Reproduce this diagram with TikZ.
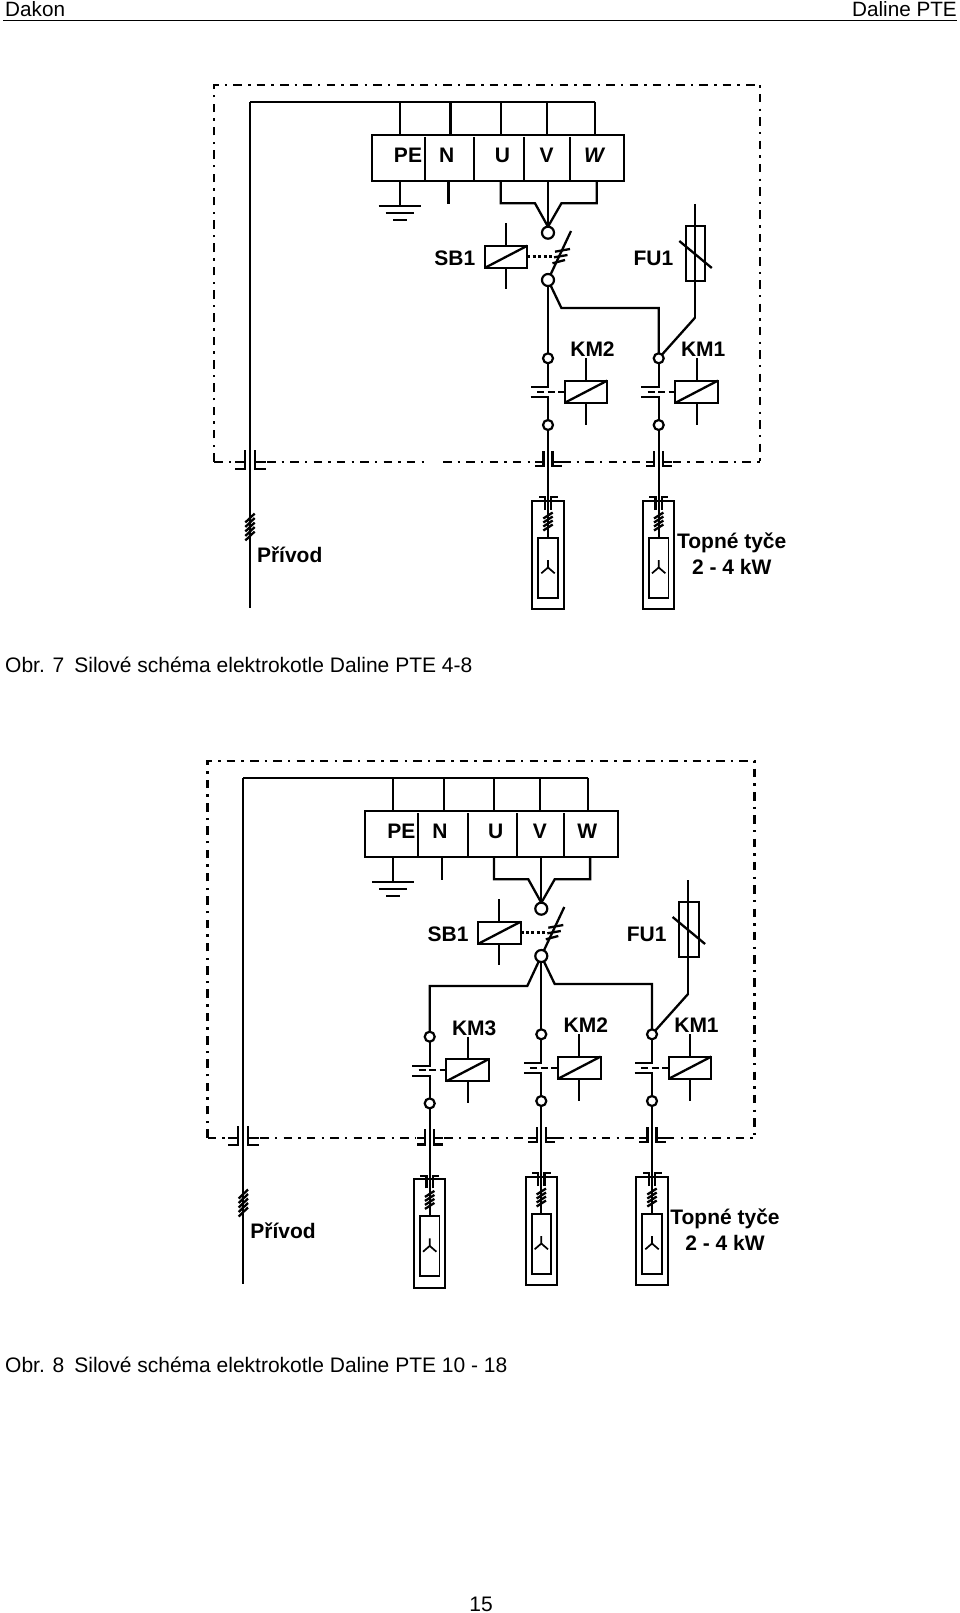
\documentclass[tikz,border=0pt]{standalone}
\usepackage{fontspec}
\setmainfont{Liberation Sans}
\tikzset{
  wire/.style={line width=2.3pt,line join=miter},
  thinw/.style={line width=1.7pt},
  frameline/.style={line width=2.3pt,dash pattern=on 8.5pt off 6.2pt on 2.4pt off 6.2pt},
  term/.style={circle,draw,line width=2.2pt,fill=white,inner sep=0pt,minimum size=10pt,outer sep=0pt},
  bigterm/.style={term,minimum size=12pt},
  boxn/.style={rectangle,draw,line width=2.1pt,inner sep=0pt,outer sep=0pt},
  lab/.style={inner sep=0pt,font=\bfseries\fontsize{21}{25}\selectfont},
  plain/.style={inner sep=0pt,font=\fontsize{21}{25}\selectfont},
  headt/.style={inner sep=0pt,font=\fontsize{20.7}{25}\selectfont}
}
% coil: prefix, centre x, centre y, stub top, stub bottom
\newcommand{\coil}[5]{%
  \node[boxn,minimum width=42.6pt,minimum height=22.2pt] (#1) at (#2,#3) {};
  \draw[wire] (#1.south west) -- (#1.north east);
  \coordinate (#1t) at (#2,#4);
  \coordinate (#1u) at (#2,#5);
  \draw[wire] (#1t) -- (#1.north);
  \draw[wire] (#1.south) -- (#1u);
}
% contactor column: prefix, x, dy, label
\newcommand{\branch}[4]{%
  \begin{scope}[shift={(#2,#3)}]
    \node[term] (#1a) at (0,358.3) {};
    \node[term] (#1b) at (0,425) {};
    \coordinate (#1c) at (0,387.3);
    \coordinate (#1d) at (0,397.3);
    \coordinate (#1e) at (-17.5,387.3);
    \coordinate (#1f) at (-17.5,397.3);
    \draw[wire] (#1a) -- (#1c) -- (#1e);
    \draw[wire] (#1f) -- (#1d) -- (#1b);
    \coil{#1coil}{38}{391.7}{358.3}{425}
    \coordinate (#1g) at (-11,391.7);
    \draw[line width=1.9pt,dash pattern=on 7pt off 3.5pt] (#1g) -- (#1coil.west);
    \node[lab] (#1lab) at (44.5,349.4) {#4};
    % coupler on the frame
    \draw[wire] (-4.5,451) -- (-4.5,466) -- (-13,466);
    \draw[wire] (-4.5,{461.7-#3}) -- (-13,{461.7-#3});
    \draw[wire] (4.5,451) -- (4.5,466) -- (13.5,466);
    \draw[wire] (4.5,{461.7-#3}) -- (13.5,{461.7-#3});
    % heater
    \node[boxn,minimum width=31.3pt,minimum height=108.6pt] (#1out) at (0,555) {};
    \node[boxn,line width=1.8pt,minimum width=19.4pt,minimum height=59.7pt] (#1in) at (0,567.8) {};
    \draw[wire] (#1b) -- (#1in.north);
    \draw[wire] (-3.3,510) -- (-3.3,497.3) -- (-9.5,497.3);
    \draw[wire] (3.3,510) -- (3.3,497.3) -- (9.5,497.3);
    \foreach \ty in {515.5,519.5,523.5,527.5}
      \draw[wire] (-4.7,\ty+3) -- (4.7,\ty-3);
    \coordinate (#1y) at (0,567.5);
    \draw[thinw] (0,560) -- (#1y) -- (-6.7,573.3);
    \draw[thinw] (#1y) -- (6.7,573.3);
  \end{scope}
}
% upper part of a diagram: prefix, W text
\newcommand{\toppart}[2]{%
  \node[boxn,minimum width=252.3pt,minimum height=46pt] (#1box) at (498.15,158) {};
  \coordinate (#1m) at (250,101.7);
  \coordinate (#1p) at (400,101.7);
  \coordinate (#1q) at (450.4,101.7);
  \coordinate (#1r) at (500.7,101.7);
  \coordinate (#1s) at (547,101.7);
  \coordinate (#1t) at (595,101.7);
  \draw[wire] (#1t) -- (#1m);
  \foreach \bx in {p,q,r,s,t}
    \draw[wire] (#1\bx) -- (#1\bx |- #1box.north);
  \foreach \dx in {425,474.3,524,570.4}
    \draw[line width=2pt] (\dx,137) -- (\dx,181);
  \node[lab] (#1pe) at (408,155.5) {PE};
  \node[lab] (#1n) at (446.6,155.5) {N};
  \node[lab] (#1u) at (502.5,155.5) {U};
  \node[lab] (#1v) at (546.6,155.5) {V};
  \node[lab] (#1w) at (594,155.5) {#2};
  % earth
  \coordinate (#1e) at (400,205.7);
  \draw[wire] (#1e |- #1box.south) -- (#1e);
  \draw[wire] (378.6,205.7) -- (420.7,205.7);
  \draw[wire] (385.7,212.7) -- (413.5,212.7);
  \draw[wire] (393,219.7) -- (407,219.7);
  \coordinate (#1ns) at (448.6,204);
  \draw[wire] (#1ns |- #1box.south) -- (#1ns);
  % phases to switch
  \node[bigterm] (#1sw) at (548,232.7) {};
  \node[bigterm] (#1so) at (548,280) {};
  \draw[wire] (500.7,181) -- (500.7,203.3) -- (535,203.3) -- (#1sw.north);
  \draw[wire] (548,181) -- (#1sw.north);
  \draw[wire] (596.8,181) -- (596.8,203.3) -- (561.4,203.3) -- (#1sw.north);
  % switch
  \coordinate (#1st) at (571,231);
  \draw[wire] (#1so) -- (#1st);
  \draw[wire] (555,251.7) -- (570,249);
  \draw[wire] (554,257.3) -- (567.5,255);
  \draw[wire] (552.5,263.3) -- (565,260);
  \coil{#1sb}{506}{256.85}{223.3}{289.3}
  \draw[line width=3pt,dash pattern=on 3pt off 2.4pt] (#1sb.east) -- (552,256.85);
  \node[lab] (#1sbl) at (454.8,258) {SB1};
  % fuse
  \node[boxn,minimum width=19.7pt,minimum height=55.3pt] (#1fu) at (695.5,253.6) {};
  \coordinate (#1fa) at (695,204);
  \coordinate (#1fb) at (695,317.7);
  \draw[wire] (#1fa) -- (#1fb);
  \draw[wire] (679.3,241) -- (711.8,268);
  \node[lab] (#1ful) at (653.4,258) {FU1};
}
% frame, main feed and labels: prefix
\newcommand{\mainfeed}[1]{%
  \coordinate (#1end) at (250,608);
  \draw[wire] (#1m) -- (#1end);
  \draw[wire] (245,450) -- (245,469.3) -- (235,469.3);
  \draw[wire] (245,461.7) -- (235,461.7);
  \draw[wire] (255,450) -- (255,469.3) -- (265.7,469.3);
  \draw[wire] (255,461.7) -- (265.7,461.7);
  \foreach \ty in {518,522.5,527,531.5,536}
    \draw[wire,line width=2.3pt] (245.3,\ty+4.5) -- (254.7,\ty-4.5);
  \node[lab] (#1pri) at (289.7,555) {Přívod};
}
\begin{document}
\begin{tikzpicture}[x=1pt,y=-1pt]
\useasboundingbox (0,0) rectangle (960,1613);
% page furniture
\node[headt,anchor=west] (dak) at (5,9.5) {Dakon};
\node[headt,anchor=east] (dal) at (957,9.5) {Daline PTE};
\coordinate (ruleA) at (3,20.5);
\coordinate (ruleB) at (957,20.5);
\draw[line width=1.8pt] (ruleA) -- (ruleB);
\node[plain,anchor=west] (cap1) at (5,665) {Obr. 7\hspace{10pt}Silové schéma elektrokotle Daline PTE 4-8};
\node[plain,anchor=west] (cap2) at (5,1364.5) {Obr. 8\hspace{10pt}Silové schéma elektrokotle Daline PTE 10 - 18};
\node[plain] (pg) at (481,1604) {15};
% Diagram 1
\draw[frameline] (214.3,461.7) -- (214.3,84.7) -- (760,84.7) -- (760,461.7);
\draw[frameline] (214.3,461.7) -- (235,461.7);
\draw[frameline] (267,461.7) -- (427,461.7);
\draw[frameline] (443,461.7) -- (534,461.7);
\draw[frameline] (562,461.7) -- (645.5,461.7);
\draw[frameline] (672.5,461.7) -- (760,461.7);
\toppart{A}{\itshape W}
\branch{Ak}{548}{0}{KM2}
\branch{Al}{658.7}{0}{KM1}
\mainfeed{A}
\draw[wire] (Aso) -- (Aka);
\draw[wire] (Aso) -- (561.4,308) -| (Ala);
\draw[wire] (Afb) -- (Ala);
\node[lab] (Atop) at (731.7,543.3) {Topné tyče};
\node[lab] (Akw) at (731.7,566.7) {2 - 4 kW};
% Diagram 2
\begin{scope}[shift={(-6.7,676)}]
\draw[frameline] (214.3,461.7) -- (214.3,84.7) -- (761.3,84.7) -- (761.3,461.7);
\draw[frameline] (214.3,461.7) -- (235,461.7);
\draw[frameline] (267,461.7) -- (422,461.7);
\draw[frameline] (451,461.7) -- (534,461.7);
\draw[frameline] (562,461.7) -- (645.5,461.7);
\draw[frameline] (672.5,461.7) -- (761.3,461.7);
\toppart{B}{W}
\branch{Bj}{436.4}{2.4}{KM3}
\branch{Bk}{548}{0}{KM2}
\branch{Bl}{658.7}{0}{KM1}
\mainfeed{B}
\draw[wire] (Bso) -- (534,310) -| (Bja);
\draw[wire] (Bso) -- (Bka);
\draw[wire] (Bso) -- (561.4,308) -| (Bla);
\draw[wire] (Bfb) -- (Bla);
\node[lab] (Btop) at (731.7,543.3) {Topné tyče};
\node[lab] (Bkw) at (731.7,566.7) {2 - 4 kW};
\end{scope}
\end{tikzpicture}
\end{document}
